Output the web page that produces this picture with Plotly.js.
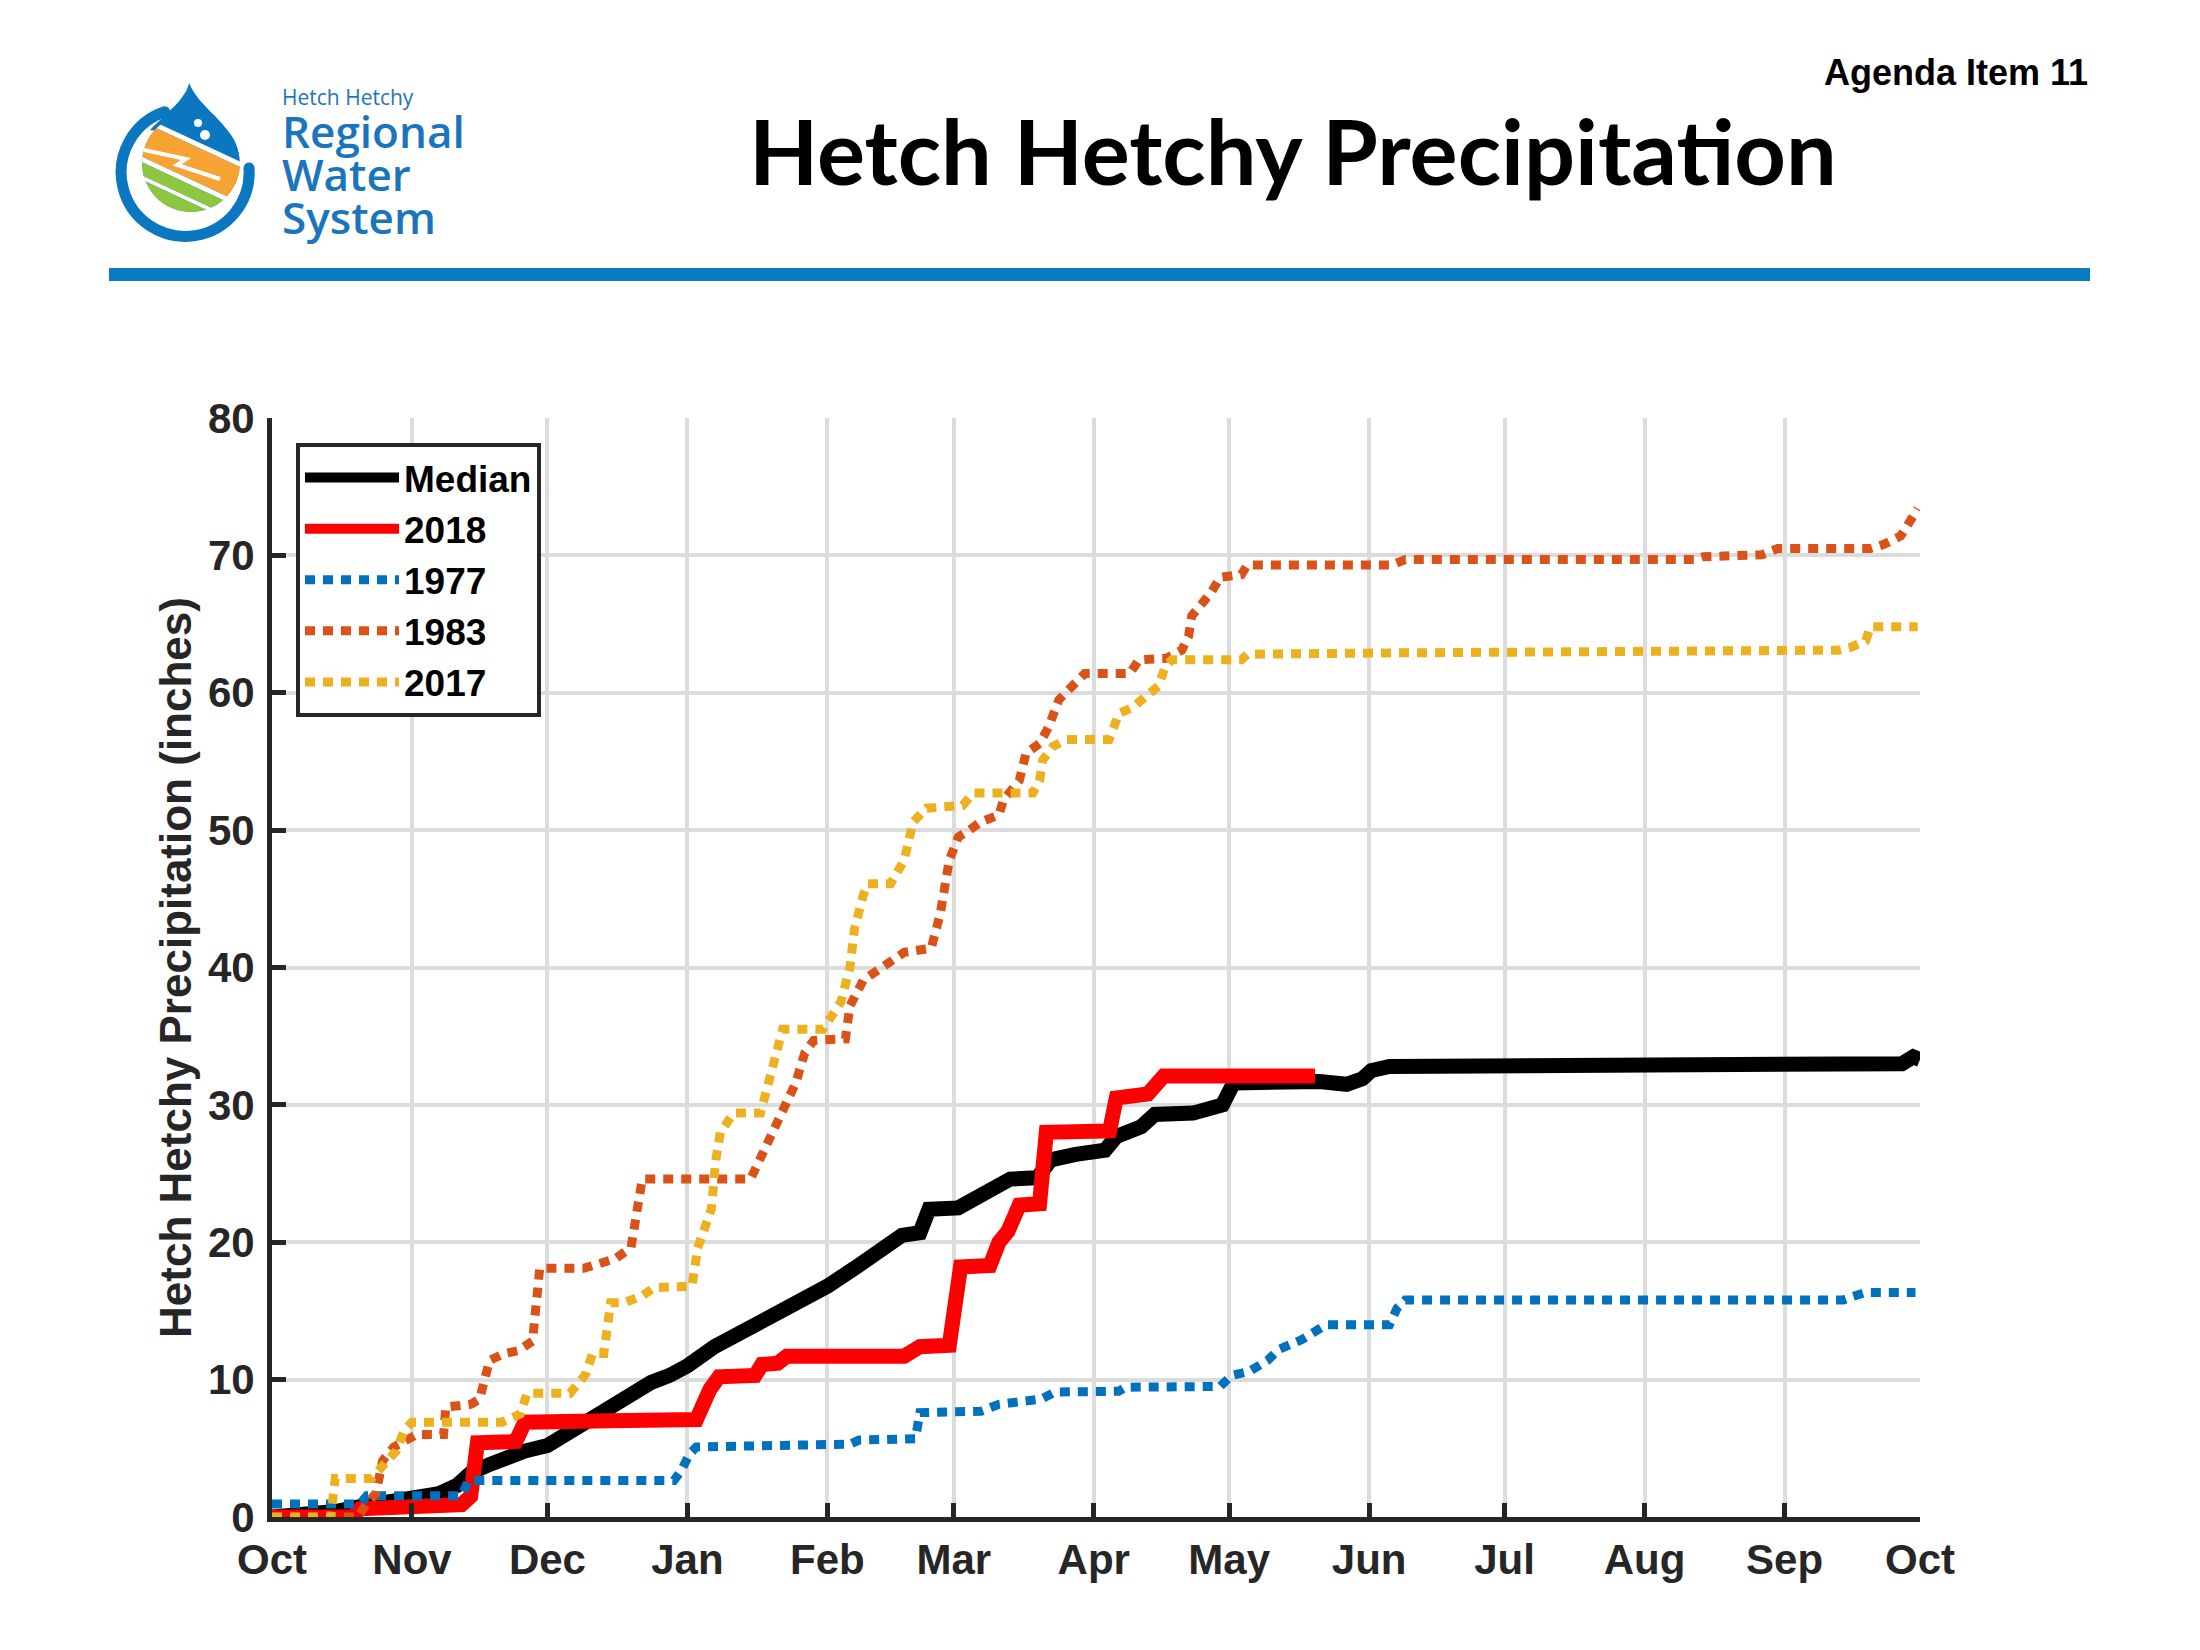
<!DOCTYPE html>
<html>
<head>
<meta charset="utf-8">
<title>Hetch Hetchy Precipitation</title>
<script src="https://cdn.plot.ly/plotly-3.0.1.min.js"></script>
<style>
  body { margin: 0; background: #ffffff; }
  #chart { width: 2200px; height: 1650px; }
</style>
</head>
<body>
<div id="chart"></div>
<script>
// x values are days since 1 October (start of the water year)
const monthStarts = [0, 31, 61, 92, 123, 151, 182, 212, 243, 273, 304, 335, 365];
const monthLabels = ["Oct", "Nov", "Dec", "Jan", "Feb", "Mar", "Apr", "May", "Jun", "Jul", "Aug", "Sep", "Oct"];

const seriesNames = ["Median", "2018", "1977", "1983", "2017"];

const medianDays = [0, 8, 14, 20, 26, 31, 37, 41, 44, 48, 52, 56, 61, 65, 68, 72, 76, 80, 84, 88, 92, 98, 102, 106, 110, 114, 118, 123, 129, 134, 139.5, 143.5, 145.5, 152, 155.5, 159.5, 163.5, 169.5, 172.5, 178, 184.5, 187, 192.5, 195.5, 204, 210.5, 213, 232, 238, 241.5, 243.5, 247.5, 311, 312, 351, 352, 361, 363.5, 365];
const medianValues = [0, 0.1, 0.4, 0.8, 1.2, 1.4, 1.7, 2.3, 3.2, 3.8, 4.4, 4.8, 5.2, 6.0, 6.8, 7.6, 8.4, 9.1, 9.8, 10.3, 11.0, 12.4, 13.1, 13.7, 14.3, 15.1, 15.8, 16.8, 18.1, 19.4, 20.5, 20.7, 22.4, 22.5, 23.2, 24.1, 24.6, 24.7, 26.0, 26.4, 26.7, 27.7, 28.4, 29.3, 29.4, 30.0, 31.6, 31.7, 31.5, 31.9, 32.5, 32.8, 32.8, 32.9, 32.9, 33.0, 33.0, 33.5, 33.3];

const wy2018Days = [0, 18, 19.5, 30, 42, 44, 45.5, 54, 56, 75, 94, 97, 99, 107, 108.5, 112, 114, 140, 143.5, 150, 152.5, 159, 161, 163, 165.5, 170, 171.5, 185.5, 187, 194, 197.5, 231];
const wy2018Values = [0, 0, 0.6, 0.7, 0.9, 1.5, 5.4, 5.5, 6.9, 7.0, 7.1, 9.3, 10.2, 10.3, 11.1, 11.2, 11.7, 11.7, 12.4, 12.5, 18.2, 18.3, 20.0, 20.8, 22.7, 22.8, 28.0, 28.1, 30.5, 30.8, 32.1, 32.1];

const wy1977Days = [0, 19.5, 21, 42, 43.5, 89, 90.5, 92.5, 94, 110, 128, 130, 142.5, 143.5, 157, 161, 170.5, 173.5, 187.5, 189, 210, 212.5, 216.5, 220.5, 223, 228, 232, 233.5, 247.5, 249.2, 251, 348, 349.6, 353, 364];
const wy1977Values = [0.95, 0.95, 1.55, 1.55, 2.65, 2.65, 3.3, 4.6, 5.1, 5.2, 5.3, 5.6, 5.7, 7.6, 7.7, 8.2, 8.6, 9.1, 9.15, 9.45, 9.5, 10.3, 10.6, 11.4, 12.2, 12.9, 13.6, 14.0, 14.0, 15.2, 15.8, 15.8, 16.0, 16.35, 16.35];

const wy1983Days = [0, 19, 21, 23, 24.5, 27, 32, 38, 38.5, 44, 46, 47, 48.2, 51.4, 54.5, 57.7, 59.3, 69, 72, 76, 79.5, 81, 82, 106, 109, 113, 116, 118, 120, 127, 128, 131, 136, 140, 146, 148, 150, 152, 154, 157, 161, 162, 165.5, 167, 170, 172, 174.3, 177.3, 179.5, 180, 190, 192, 198, 201.5, 203, 203.7, 206, 208, 210, 214.7, 216, 248, 251, 315, 317, 321.5, 330, 333.5, 354, 357, 360.7, 362.8, 364.5];
const wy1983Values = [0, 0, 1.0, 1.7, 4.1, 5.1, 6.0, 6.0, 8.0, 8.2, 8.6, 10.2, 11.4, 11.9, 12.1, 12.8, 18.1, 18.1, 18.4, 18.8, 19.6, 22.4, 24.6, 24.6, 26.8, 29.4, 31.6, 33.8, 34.7, 34.8, 37.2, 39.1, 40.3, 41.1, 41.4, 43.9, 47.8, 49.5, 49.9, 50.6, 51.1, 52.2, 53.6, 55.6, 56.3, 57.5, 59.5, 60.5, 61.2, 61.4, 61.4, 62.4, 62.5, 63.1, 64.1, 65.6, 66.5, 67.3, 68.4, 68.6, 69.3, 69.3, 69.7, 69.7, 69.9, 70.0, 70.05, 70.5, 70.5, 70.8, 71.4, 72.5, 73.4];

const wy2017Days = [0, 13, 14, 22, 25, 27.5, 29.3, 31, 51, 55, 56.5, 66, 69.5, 71, 73.5, 74.3, 75, 78, 82, 84.6, 93, 94.3, 97.3, 98.3, 99.3, 102.2, 108.2, 110.2, 112.2, 113.1, 122, 126, 128, 129, 131, 132, 137, 140, 142, 145, 153, 155.3, 168.5, 170, 170.7, 173, 176, 185.4, 187.6, 190.5, 193.4, 196.4, 197.8, 199.3, 214.7, 216, 248, 344.5, 347, 349.6, 353, 354, 364.5];
const wy2017Values = [0, 0, 2.8, 2.8, 3.9, 4.8, 6.3, 6.9, 6.9, 7.5, 9.0, 9.0, 10.4, 11.9, 11.9, 14.5, 15.6, 15.6, 16.1, 16.7, 16.8, 19.6, 22.4, 26.0, 28.0, 29.4, 29.4, 31.9, 34.9, 35.5, 35.5, 37.5, 40.0, 42.8, 45.3, 46.1, 46.1, 47.8, 50.6, 51.6, 51.8, 52.7, 52.7, 53.6, 55.1, 56.1, 56.6, 56.6, 58.5, 58.9, 59.7, 60.5, 61.9, 62.4, 62.4, 62.8, 62.9, 62.95, 63.1, 63.3, 63.8, 64.8, 64.8];

// page geometry of the plot area, used to place header items in paper units
const PLOT_L = 272, PLOT_R = 1920, PLOT_T = 418, PLOT_B = 1517;
const px2x = px => (px - PLOT_L) / (PLOT_R - PLOT_L);
const py2y = py => (PLOT_B - py) / (PLOT_B - PLOT_T);

const AXIS_COLOR = "#262626";
const DOTS = "10px,8px";

const traces = [
  { x: medianDays, y: medianValues, name: seriesNames[0], line: { color: "#000000", width: 15 } },
  { x: wy2018Days, y: wy2018Values, name: seriesNames[1], line: { color: "#ff0000", width: 15 } },
  { x: wy1977Days, y: wy1977Values, name: seriesNames[2], line: { color: "#0072bd", width: 9, dash: DOTS } },
  { x: wy1983Days, y: wy1983Values, name: seriesNames[3], line: { color: "#d95319", width: 9, dash: DOTS } },
  { x: wy2017Days, y: wy2017Values, name: seriesNames[4], line: { color: "#edb120", width: 9, dash: DOTS } }
].map(t => Object.assign({ type: "scatter", mode: "lines", hoverinfo: "skip" }, t));

// logo drawn as a small svg image
const logoSvg =
  '<svg xmlns="http://www.w3.org/2000/svg" viewBox="110 78 160 180" width="160" height="180">' +
  '<defs><clipPath id="c"><circle cx="191" cy="163" r="49"/></clipPath></defs>' +
  '<path d="M164.6,111.8 A64,64 0 1,0 249,168" fill="none" stroke="#0b77c0" stroke-width="11" stroke-linecap="round"/>' +
  '<path d="M189,83 C186,98 170,110 150,130 L234,142 C224,118 200,108 189,83 Z" fill="#0b77c0"/>' +
  '<g clip-path="url(#c)">' +
  '<circle cx="191" cy="163" r="49" fill="#0b77c0"/>' +
  '<g transform="rotate(25 191 163)">' +
  '<rect x="120" y="141" width="150" height="5" fill="#ffffff"/>' +
  '<rect x="120" y="146" width="150" height="32" fill="#f7a333"/>' +
  '<rect x="120" y="178" width="150" height="5" fill="#ffffff"/>' +
  '<rect x="120" y="183" width="150" height="12" fill="#8dc63f"/>' +
  '<rect x="120" y="195" width="150" height="4" fill="#ffffff"/>' +
  '<rect x="120" y="199" width="150" height="40" fill="#8dc63f"/>' +
  '</g>' +
  '<path d="M140,149 L186,159 L177,165 L220,179" fill="none" stroke="#ffffff" stroke-width="4"/>' +
  '</g>' +
  '<circle cx="198" cy="123" r="4" fill="#ffffff"/>' +
  '<circle cx="205" cy="135" r="5" fill="#ffffff"/>' +
  '</svg>';

// the logo words are one text block; the base size sets the tight line pitch
const logoBlue = "#1b75bc";
const logoWords = '<span style="font-size:21px;font-weight:400">Hetch Hetchy</span><br>' +
  '<span style="font-size:44px">Regional</span><br>' +
  '<span style="font-size:44px">Water</span><br>' +
  '<span style="font-size:44px">System</span>';

const layout = {
  width: 2200,
  height: 1650,
  margin: { l: PLOT_L, r: 2200 - PLOT_R, t: PLOT_T, b: 1650 - PLOT_B },
  paper_bgcolor: "#ffffff",
  plot_bgcolor: "#ffffff",
  font: { family: "Liberation Sans, Arial, sans-serif", color: AXIS_COLOR },
  showlegend: true,
  xaxis: {
    range: [0, 365],
    tickvals: monthStarts,
    ticktext: monthLabels,
    showgrid: true, gridcolor: "#dcdcdc", gridwidth: 4,
    zeroline: false,
    showline: true, linecolor: AXIS_COLOR, linewidth: 5,
    ticks: "inside", ticklen: 14, tickwidth: 5, tickcolor: AXIS_COLOR,
    ticklabelstandoff: 2,
    tickfont: { size: 42, weight: "bold", color: AXIS_COLOR }
  },
  yaxis: {
    range: [0, 80],
    tick0: 0, dtick: 10,
    showgrid: true, gridcolor: "#dcdcdc", gridwidth: 4,
    zeroline: false,
    showline: true, linecolor: AXIS_COLOR, linewidth: 5,
    ticks: "inside", ticklen: 14, tickwidth: 5, tickcolor: AXIS_COLOR,
    ticklabelstandoff: 4,
    tickfont: { size: 42, weight: "bold", color: AXIS_COLOR },
    title: {
      text: "Hetch Hetchy Precipitation (inches)",
      font: { size: 44, weight: "bold", color: AXIS_COLOR },
      standoff: 4
    }
  },
  legend: {
    x: px2x(296), y: py2y(443), xanchor: "left", yanchor: "top",
    bgcolor: "#ffffff", bordercolor: AXIS_COLOR, borderwidth: 4,
    itemwidth: 94, tracegroupgap: 0,
    font: { size: 37, weight: "bold", color: "#000000" }
  },
  shapes: [
    { type: "rect", xref: "paper", yref: "paper",
      x0: px2x(109), x1: px2x(2090), y0: py2y(281), y1: py2y(268),
      fillcolor: "#0a7bc1", line: { width: 0 } }
  ],
  images: [
    { source: "data:image/svg+xml;charset=utf-8," + encodeURIComponent(logoSvg),
      xref: "paper", yref: "paper", x: px2x(110), y: py2y(78),
      sizex: 160 / (PLOT_R - PLOT_L), sizey: 180 / (PLOT_B - PLOT_T),
      xanchor: "left", yanchor: "top", sizing: "stretch", layer: "above" }
  ],
  annotations: [
    { text: logoWords, xref: "paper", yref: "paper",
      x: px2x(280), y: py2y(165), xanchor: "left", yanchor: "middle", align: "left",
      showarrow: false,
      font: { family: "Open Sans, sans-serif", size: 33, weight: 600, color: logoBlue } },
    { text: "Hetch Hetchy Precipitation", xref: "paper", yref: "paper",
      x: px2x(1293), y: py2y(150), xanchor: "center", yanchor: "middle", showarrow: false,
      font: { family: "Lato, sans-serif", size: 90, weight: "bold", color: "#000000" } },
    { text: "Agenda Item 11", xref: "paper", yref: "paper",
      x: px2x(2090), y: py2y(72), xanchor: "right", yanchor: "middle", showarrow: false,
      font: { family: "Liberation Sans, Arial, sans-serif", size: 36, weight: "bold", color: "#000000" } }
  ]
};

Plotly.newPlot("chart", traces, layout, { displayModeBar: false, responsive: false });
</script>
</body>
</html>
